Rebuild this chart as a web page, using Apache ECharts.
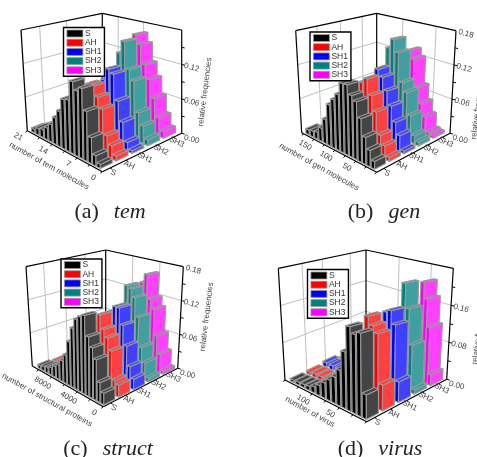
<!DOCTYPE html>
<html><head><meta charset="utf-8">
<style>html,body{margin:0;padding:0;background:#fff}#c{width:477px;height:457px}</style>
<script src="https://cdn.jsdelivr.net/npm/echarts@6/dist/echarts.min.js"></script>
</head><body><div id="c"></div>
<script>
const seriesNames = ['S','AH','SH1','SH2','SH3'];
const temS   = [.006,.015,.038,.074,.106,.1,.112,.081,.079,.057,.0435,.029,.02,.0136,.011,.006];
const temAH  = [.0074,.019,.031,.069,.085,.1,.1,.09,.07,.055,.04,.03,.025,.012,.006,.003];
const temSH1 = [.004,.0135,.042,.073,.114,.12,.1,.085,.07,.05,.03,.02,.012,.007,.004,.002];
const temSH2 = [.0095,.028,.047,.097,.114,.16,.138,.11,.085,.06,.04,.025,.014,.008,.004,.002];
const temSH3 = [.011,.031,.061,.091,.115,.148,.164,.125,.09,.065,.04,.025,.014,.008,.004,.002];
const genS   = [.011,.024,.04,.065,.088,.095,.109,.109,.089,.078,.067,.04,.022,.012,.01,.008];
const genAH  = [.006,.02,.033,.066,.089,.113,.105,.09,.07,.055,.04,.025,.012,.006,.004,.002];
const genSH1 = [.004,.025,.043,.066,.088,.108,.119,.1,.08,.06,.045,.025,.012,.006,.004,.002];
const genSH2 = [.006,.013,.043,.079,.093,.142,.163,.146,.11,.08,.055,.035,.018,.008,.004,.002];
const genSH3 = [.004,.006,.029,.049,.075,.123,.136,.1,.075,.05,.03,.015,.007,.004,.002,.002];
const strS   = [.0166,.029,.06,.075,.0895,.12,.116,.11,.094,.07,.046,.034,.024,.018,.013,.01,.008,.006];
const strAH  = [.018,.022,.064,.082,.093,.114,.1,.09,.07,.05,.03,.02,.015,.015,.015,.012,.006,.004];
const strSH1 = [.016,.033,.063,.094,.12,.12,.11,.09,.07,.05,.03,.02,.012,.008,.006,.004,.003,.002];
const strSH2 = [.006,.028,.051,.099,.13,.143,.147,.11,.085,.06,.04,.025,.014,.008,.005,.003,.002,.002];
const strSH3 = [.005,.031,.06,.104,.12,.162,.146,.11,.085,.06,.04,.025,.014,.008,.005,.003,.002,.002];
const virS   = [.043,.148,.143,.154,.105,.067,.05,.04,.03,.02,.012,.008,.007,.006,.005];
const virAH  = [.047,.138,.15,.165,.06,.04,.03,.02,.012,.008,.008,.008,.008,.008,.006];
const virSH1 = [.039,.145,.17,.165,.05,.03,.02,.012,.006,.004,.003,.01,.01,.01,.01];
const virSH2 = [.008,.094,.165,.215,.06,.03,.015,.008,.005,.004,.003,.002,.002,.002,.002];
const virSH3 = [.022,.119,.176,.21,.06,.03,.015,.008,.005,.004,.003,.002,.002,.002,.002];
const temXTicks = [0,7,14,21];
const genXTicks = [50,100,150];
const strXTicks = [0,4000,8000];
const virXTicks = [50,100];
const temZTicks = [0,.06,.12];
const genZTicks = [0,.06,.12,.18];
const strZTicks = [0,.06,.12,.18];
const virZTicks = [0,.08,.16];

const faceColors = ['#444444','#ff4040','#4040ff','#40a0a0','#ff40ff'];
const sideColors = ['#000000','#ff0000','#0000ff','#008080','#ff00ff'];
const edge = '#9a9a9a';
const ink = '#444';
const sans = '"Liberation Sans",Arial,sans-serif';

const panels = [
 {key:'a', caption:['(a)','tem'], capX:105, capY:208, xName:'number of tem molecules', data:[temS,temAH,temSH1,temSH2,temSH3],
  F:[102.3,171.7],R:[181.7,133.3],L:[27.3,130.7],B:[102.3,100],Ft:[102.3,43],Rt:[181.7,30],Lt:[21,30],Bt:[102.3,13.3],
  xMax:21,xTicks:temXTicks,xMinor:3.5,zMax:.18,zTicks:temZTicks,zMinor:.03,gridL:[.23,.56],gridR:[.48,.8],
  u0:.075,du:.058,uw:.045,shear:0,legend:[63.5,27.5],xNameAt:[49,166,29],zNameAt:[205,92]},
 {key:'b', caption:['(b)','gen'], capX:379, capY:208, xName:'number of gen molecules', data:[genS,genAH,genSH1,genSH2,genSH3],
  F:[376.7,172.3],R:[450,133.3],L:[301.7,132.7],B:[376.7,100],Ft:[376.7,45],Rt:[456,30.7],Lt:[295.7,30.7],Bt:[376.7,13.3],
  xMax:180,xTicks:genXTicks,xMinor:25,zMax:.18,zTicks:genZTicks,zMinor:.03,gridL:[.26,.55,.82],gridR:[.25,.67],
  u0:.075,du:.058,uw:.045,shear:0,legend:[310,32],xNameAt:[319,167,29],zNameAt:[478,105]},
 {key:'c', caption:['(c)','struct'], capX:103, capY:445, xName:'number of structural proteins', data:[strS,strAH,strSH1,strSH2,strSH3],
  F:[103.3,406.7],R:[177.7,368.3],L:[32.3,366],B:[105.7,336.7],Ft:[104,280],Rt:[183.3,266.7],Lt:[26,266.7],Bt:[105.7,250],
  xMax:11000,xTicks:strXTicks,xMinor:2000,zMax:.18,zTicks:strZTicks,zMinor:.03,gridL:[.22,.48,.74],gridR:[.3,.65],
  u0:.04,du:.052,uw:.04,shear:0,legend:[61,259],xNameAt:[47,400,29],zNameAt:[206.7,316.7]},
 {key:'d', caption:['(d)','virus'], capX:375, capY:445, xName:'number of virus', data:[virS,virAH,virSH1,virSH2,virSH3],
  F:[366.7,421.7],R:[446.7,379.3],L:[285,380],B:[366,341.7],Ft:[366,283],Rt:[453.3,268.3],Lt:[278.3,268.3],Bt:[366,250],
  xMax:150,xTicks:virXTicks,xMinor:25,zMax:.24,zTicks:virZTicks,zMinor:.04,gridL:[.27,.5,.82],gridR:[.25,.62],
  u0:.053,du:.063,uw:.05,shear:.55,legend:[307.5,269.5],xNameAt:[310,412,29],zNameAt:[479,330]}
];

const lerp=(a,b,t)=>[a[0]+(b[0]-a[0])*t,a[1]+(b[1]-a[1])*t];
// u: along number axis, v: along series axis, t: fraction of the height axis
function project(p,u,v,t){
  const bot=lerp(lerp(p.F,p.L,u),lerp(p.R,p.B,u),v);
  const top=lerp(lerp(p.Ft,p.Lt,u),lerp(p.Rt,p.Bt,u),v);
  return lerp(bot,top,t);
}
const VW=.15;
function barItem(p,j,api){
  const i=api.value(0), val=api.value(1);
  const vc=(j+.5)/5, v0=vc-VW/2, v1=vc+VW/2, t=val/p.zMax;
  const squeeze=1-p.shear*v0*(1-i/14);
  const u0=p.u0+p.du*i*squeeze-p.uw/2, u1=u0+p.uw*(1-p.shear*v0*.4);
  const P=(u,v,z)=>api.coord(project(p,u,v,z));
  const base={stroke:edge,lineWidth:1.1,lineJoin:'round'};
  const poly=(pts,fill)=>({type:'polygon',shape:{points:pts},style:Object.assign({fill},base)});
  return {type:'group',children:[
    poly([P(u0,v0,0),P(u1,v0,0),P(u1,v0,t),P(u0,v0,t)],sideColors[j]),
    poly([P(u0,v0,0),P(u0,v1,0),P(u0,v1,t),P(u0,v0,t)],faceColors[j]),
    poly([P(u0,v0,t),P(u0,v1,t),P(u1,v1,t),P(u1,v0,t)],faceColors[j])
  ]};
}
function line(api,a,b,stroke,w){
  const A=api.coord(a),B=api.coord(b);
  return {type:'line',shape:{x1:A[0],y1:A[1],x2:B[0],y2:B[1]},style:{stroke,lineWidth:w}};
}
function label(api,pos,text,deg,size,align){
  const c=api.coord(pos);
  return {type:'text',x:c[0],y:c[1],rotation:deg*Math.PI/180,
    style:{text,fill:ink,font:size+'px '+sans,align:align||'center',verticalAlign:'middle'}};
}
function frameItem(p,api){
  const ch=[], grid='#c0c0c0', blk='#000', P=(u,v,t)=>project(p,u,v,t);
  const add=(o,d)=>[o[0]+d[0],o[1]+d[1]];
  p.zTicks.forEach(z=>{ if(z>0&&z<p.zMax){
    ch.push(line(api,P(1,0,z/p.zMax),P(1,1,z/p.zMax),grid,1));
    ch.push(line(api,P(0,1,z/p.zMax),P(1,1,z/p.zMax),grid,1)); }});
  p.gridL.forEach(v=>ch.push(line(api,P(1,v,0),P(1,v,1),grid,1)));
  p.gridR.forEach(u=>ch.push(line(api,P(u,1,0),P(u,1,1),grid,1)));
  [[P(1,0,1),P(1,1,1)],[P(1,1,1),P(0,1,1)],[P(1,1,0),P(1,1,1)],[P(1,0,0),P(1,0,1)],[P(0,1,0),P(0,1,1)],
   [P(1,0,0),P(0,0,0)],[P(0,0,0),P(0,1,0)]].forEach(s=>ch.push(line(api,s[0],s[1],blk,1.2)));
  for(let x=0;x<=p.xMax+1e-6;x+=p.xMinor){const q=P(x/p.xMax,0,0);ch.push(line(api,q,add(q,[-2,1.6]),blk,1));}
  p.xTicks.forEach(x=>{const q=P(x/p.xMax,0,0);ch.push(label(api,add(q,[-9,6]),String(x),-30,8));});
  ch.push(label(api,p.xNameAt.slice(0,2),p.xName,-p.xNameAt[2],8));
  seriesNames.forEach((n,j)=>{const q=P(0,(j+.5)/5,0);
    ch.push(line(api,q,add(q,[2,1.4]),blk,1));
    ch.push(label(api,add(q,[3,5]),n,-25,8));});
  for(let z=0;z<p.zMax-1e-6;z+=p.zMinor){const q=P(0,1,z/p.zMax);ch.push(line(api,q,add(q,[3,.8]),blk,1));}
  p.zTicks.forEach(z=>{const q=P(0,1,z/p.zMax);ch.push(label(api,add(q,[10,z===0?6:3]),z.toFixed(2),-15,8));});
  ch.push(label(api,p.zNameAt,'relative frequencies',83,8));
  return {type:'group',children:ch};
}

const series=[], legends=[], titles=[];
panels.forEach(p=>{
  series.push({type:'custom',name:'frame-'+p.key,coordinateSystem:'cartesian2d',silent:true,clip:false,
    data:[[0,0]],renderItem:(params,api)=>frameItem(p,api)});
  for(let j=seriesNames.length-1;j>=0;j--){
    const rows=p.data[j].map((v,i)=>[i,v]).reverse();
    series.push({type:'custom',name:seriesNames[j],coordinateSystem:'cartesian2d',silent:true,clip:false,
      itemStyle:{color:sideColors[j]},data:rows,encode:{x:0,y:1},
      renderItem:(params,api)=>barItem(p,j,api)});
  }
  legends.push({data:seriesNames,orient:'vertical',left:p.legend[0],top:p.legend[1],selectedMode:false,
    backgroundColor:'#fff',borderColor:'#000',borderWidth:1.4,padding:[1.5,3],itemGap:0.2,itemWidth:16,itemHeight:7,
    icon:'rect',itemStyle:{borderColor:'#999',borderWidth:.8},
    textStyle:{fontSize:8.5,fontFamily:'"Liberation Sans",Arial,sans-serif',color:'#333',padding:[0,0,0,-3]}});
  titles.push({text:'{r|'+p.caption[0]+'}   {i|'+p.caption[1]+'}',left:p.capX,top:p.capY-12,textAlign:'center',
    textStyle:{fontWeight:'normal',rich:{r:{fontFamily:'"Liberation Serif",serif',fontWeight:'normal',fontSize:22,color:'#222'},
                     i:{fontFamily:'"Liberation Serif",serif',fontStyle:'italic',fontWeight:'normal',fontSize:22,color:'#222'}}}});
});

const chart=echarts.init(document.getElementById('c'));
chart.setOption({animation:false,backgroundColor:'#fff',title:titles,legend:legends,
  grid:{left:0,right:0,top:0,bottom:0},
  xAxis:{type:'value',min:0,max:477,show:false},
  yAxis:{type:'value',min:0,max:457,inverse:true,show:false},
  series});
</script></body></html>
